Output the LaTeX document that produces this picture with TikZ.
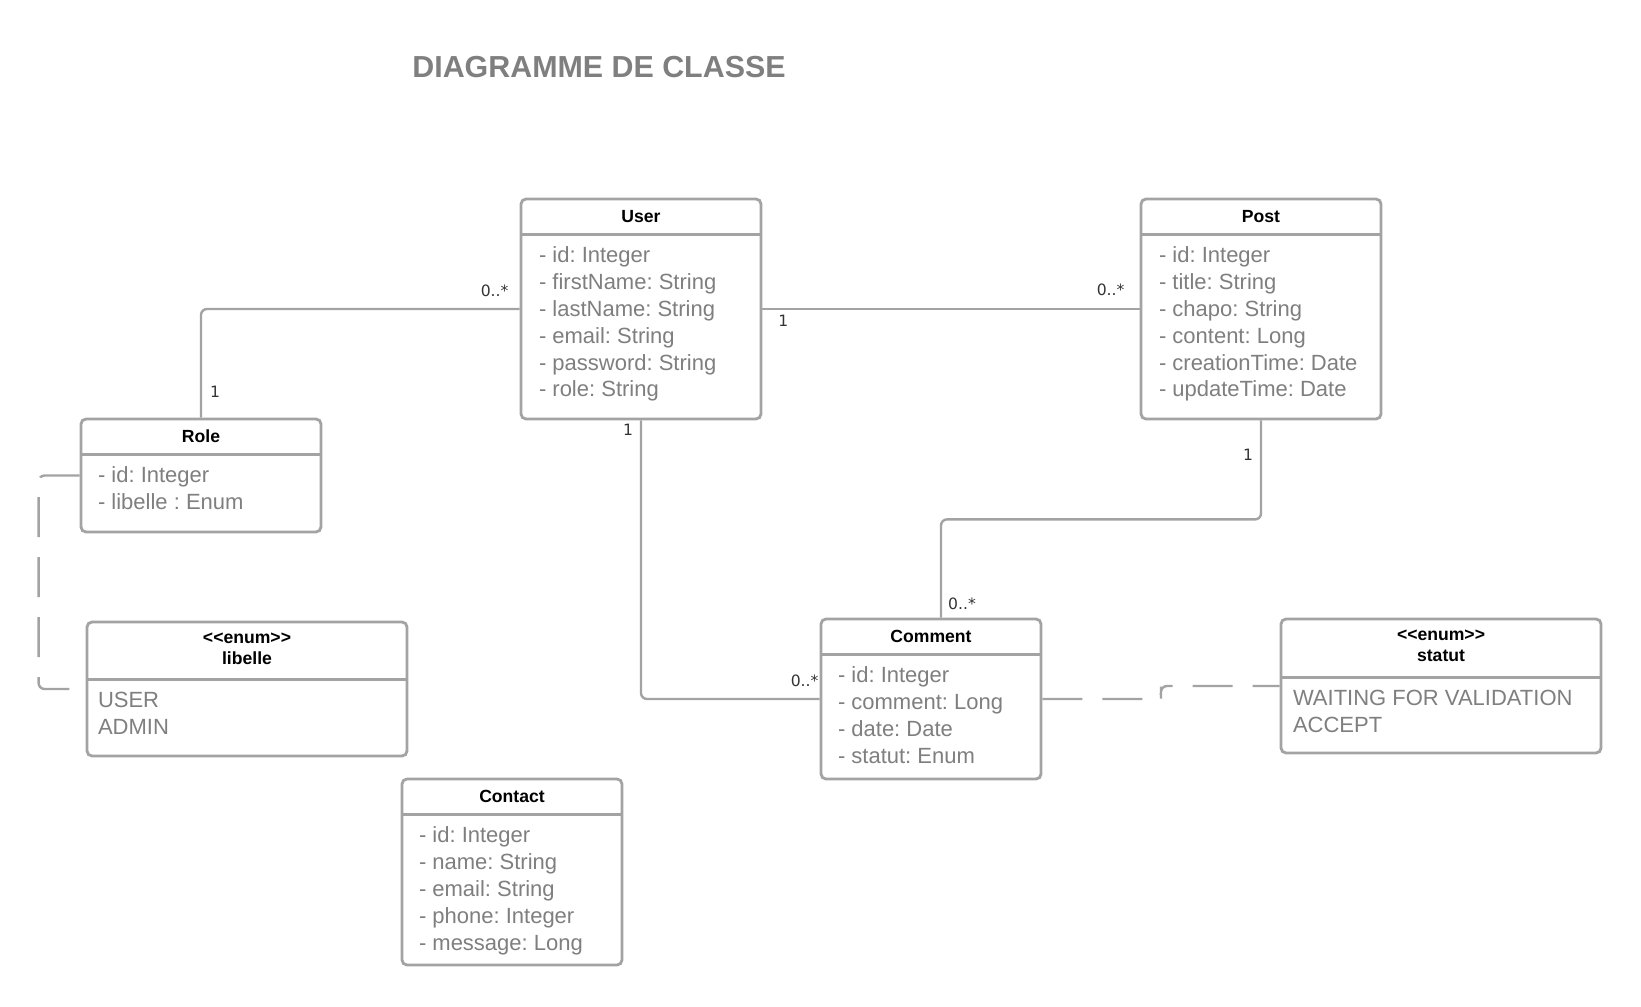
\documentclass[tikz,border=0pt]{standalone}
\usepackage{fontspec}
\setmainfont{Liberation Sans}
\newfontfamily\multfont{DejaVu Sans}
\usepackage{xcolor}
\usetikzlibrary{positioning, calc}

\definecolor{linegray}{HTML}{A3A3A3}
\definecolor{textgray}{HTML}{7F7F7F}
\frenchspacing

\begin{document}
\begin{tikzpicture}[
    x=0.5pt, y=-0.5pt,
    classbox/.style={rectangle, draw=linegray, line width=1.4pt, rounded corners=2.5pt, fill=white},
    classtitle/.style={font=\fontsize{8.8}{10.6}\selectfont\bfseries, align=center, inner sep=0pt},
    attrs/.style={anchor=north west, font=\fontsize{11}{13.4}\selectfont, text=textgray, align=left, inner sep=0pt},
    headline/.style={draw=linegray, line width=1.4pt},
    assoc/.style={draw=linegray, line width=1.2pt, rounded corners=3pt},
    dep/.style={assoc, dash pattern=on 20pt off 10pt},
    mult/.style={font=\multfont\fontsize{7.8}{9}\selectfont, text=black!80, inner sep=0pt},
    maintitle/.style={font=\fontsize{15.2}{18}\selectfont\bfseries, text=textgray}
]

\useasboundingbox (0,0) rectangle (1641,1006);

\node[maintitle] (title) at (599,67) {DIAGRAMME DE CLASSE};

% User
\node[classbox, minimum width=120pt, minimum height=110pt] (user) at (641,309) {};
\draw[headline] ($(user.north west)+(0,37)$) -- ($(user.north east)+(0,37)$);
\node[classtitle] (user_t) at ($(user.north)+(0,18.5)$) {User};
\node[attrs] (user_a) at ($(user.north west)+(19,49)$) {- id: Integer\\- firstName: String\\- lastName: String\\- email: String\\- password: String\\- role: String};

% Post
\node[classbox, minimum width=120pt, minimum height=110pt] (post) at (1261,309) {};
\draw[headline] ($(post.north west)+(0,37)$) -- ($(post.north east)+(0,37)$);
\node[classtitle] (post_t) at ($(post.north)+(0,18.5)$) {Post};
\node[attrs] (post_a) at ($(post.north west)+(19,49)$) {- id: Integer\\- title: String\\- chapo: String\\- content: Long\\- creationTime: Date\\- updateTime: Date};

% Role
\node[classbox, minimum width=120pt, minimum height=56.5pt] (role) at (201,475.5) {};
\draw[headline] ($(role.north west)+(0,37)$) -- ($(role.north east)+(0,37)$);
\node[classtitle] (role_t) at ($(role.north)+(0,18.5)$) {Role};
\node[attrs] (role_a) at ($(role.north west)+(18,49)$) {- id: Integer\\- libelle : Enum};

% enum libelle
\node[classbox, minimum width=160pt, minimum height=67pt] (libelle) at (247,689) {};
\draw[headline] ($(libelle.north west)+(0,59)$) -- ($(libelle.north east)+(0,59)$);
\node[classtitle] (libelle_t) at ($(libelle.north)+(0,28)$) {<\kern0pt<enum>\kern0pt>\\libelle};
\node[attrs] (libelle_a) at ($(libelle.north west)+(12,71)$) {USER\\ADMIN};

% Comment
\node[classbox, minimum width=110pt, minimum height=80pt] (comment) at (931,699) {};
\draw[headline] ($(comment.north west)+(0,37)$) -- ($(comment.north east)+(0,37)$);
\node[classtitle] (comment_t) at ($(comment.north)+(0,18.5)$) {Comment};
\node[attrs] (comment_a) at ($(comment.north west)+(18,49)$) {- id: Integer\\- comment: Long\\- date: Date\\- statut: Enum};

% enum statut
\node[classbox, minimum width=160pt, minimum height=67pt] (statut) at (1441,686) {};
\draw[headline] ($(statut.north west)+(0,60)$) -- ($(statut.north east)+(0,60)$);
\node[classtitle] (statut_t) at ($(statut.north)+(0,28)$) {<\kern0pt<enum>\kern0pt>\\statut};
\node[attrs] (statut_a) at ($(statut.north west)+(13,72)$) {WAITING FOR VALIDATION\\ACCEPT};

% Contact
\node[classbox, minimum width=110pt, minimum height=93pt] (contact) at (512,872) {};
\draw[headline] ($(contact.north west)+(0,37)$) -- ($(contact.north east)+(0,37)$);
\node[classtitle] (contact_t) at ($(contact.north)+(0,18.5)$) {Contact};
\node[attrs] (contact_a) at ($(contact.north west)+(18,49)$) {- id: Integer\\- name: String\\- email: String\\- phone: Integer\\- message: Long};

% associations
\draw[assoc] (user.west) -| (role.north);
\draw[assoc] (user.east) -- (post.west);
\draw[assoc] (user.south) |- (comment.west);
\draw[assoc] (post.south) -- ++(0,99) -| ([xshift=5pt]comment.north);

\draw[dep] (role.west) -- ++(-41,0) |- (libelle.west);
\draw[dep] (comment.east) -| ($(comment.east)!.5!(statut.west)$) |- (statut.west);

% multiplicities
\node[mult] (m_ur) at ($(user.west)+(-25,-18)$) {0..*};
\node[mult] (m_ru) at ($(role.north)+(14,-26)$) {1};
\node[mult] (m_up) at ($(user.east)+(21,12)$) {1};
\node[mult] (m_pu) at ($(post.west)+(-29,-19)$) {0..*};
\node[mult] (m_uc) at ($(user.south)+(-13,9)$) {1};
\node[mult] (m_cu) at ($(comment.west)+(-15,-18)$) {0..*};
\node[mult] (m_pc) at ($(post.south)+(-13,34)$) {1};
\node[mult] (m_cp) at ($(comment.north)+(31,-14)$) {0..*};

\end{tikzpicture}
\end{document}
